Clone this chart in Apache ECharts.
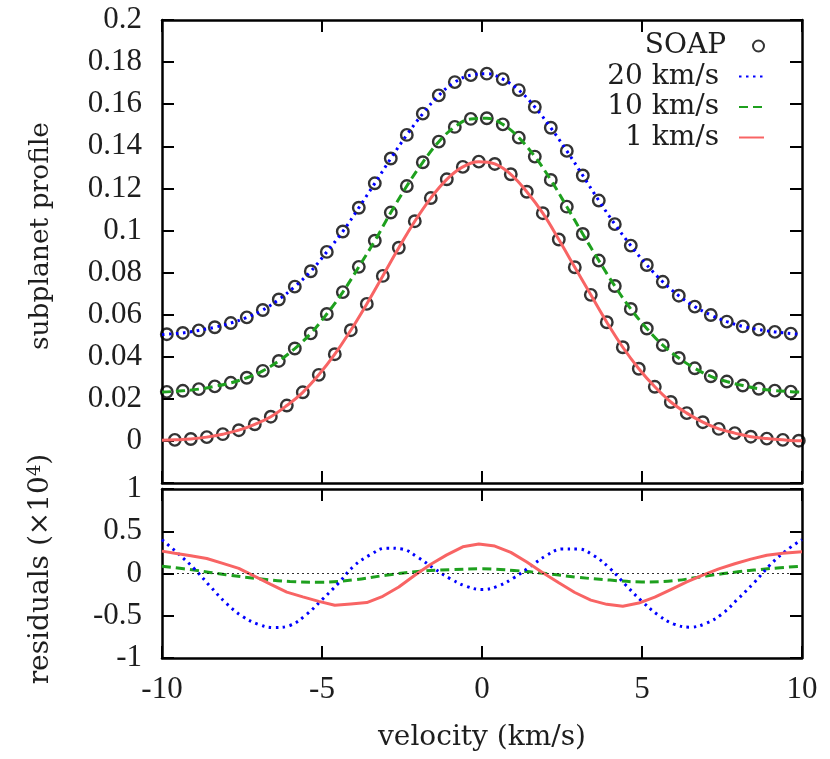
<!DOCTYPE html>
<html>
<head>
<meta charset="utf-8">
<script src="https://cdn.jsdelivr.net/npm/echarts@6/dist/echarts.min.js"></script>
<style>
html, body { margin: 0; padding: 0; background: #fff; }
#main { width: 830px; height: 759px; }
</style>
</head>
<body>
<div id="main"></div>
<script>
// SOAP sampling grids (km/s)
const vBroad = [-9.85, -9.35, -8.85, -8.35, -7.85, -7.35, -6.85, -6.35, -5.85, -5.35,
  -4.85, -4.35, -3.85, -3.35, -2.85, -2.35, -1.85, -1.35, -0.85, -0.35,
  0.15, 0.65, 1.15, 1.65, 2.15, 2.65, 3.15, 3.65, 4.15, 4.65,
  5.15, 5.65, 6.15, 6.65, 7.15, 7.65, 8.15, 8.65, 9.15, 9.65];
const vNarrow = [-9.6, -9.1, -8.6, -8.1, -7.6, -7.1, -6.6, -6.1, -5.6, -5.1,
  -4.6, -4.1, -3.6, -3.1, -2.6, -2.1, -1.6, -1.1, -0.6, -0.1,
  0.4, 0.9, 1.4, 1.9, 2.4, 2.9, 3.4, 3.9, 4.4, 4.9,
  5.4, 5.9, 6.4, 6.9, 7.4, 7.9, 8.4, 8.9, 9.4, 9.9];

// subplanet profiles
const soap20 = [0.0507, 0.0513, 0.0525, 0.0540, 0.0560, 0.0587, 0.0622, 0.0672, 0.0733, 0.0806,
  0.0898, 0.0995, 0.1108, 0.1224, 0.1342, 0.1454, 0.1555, 0.1642, 0.1705, 0.1738,
  0.1745, 0.1719, 0.1667, 0.1587, 0.1488, 0.1378, 0.1261, 0.1142, 0.1030, 0.0928,
  0.0836, 0.0756, 0.0690, 0.0638, 0.0598, 0.0567, 0.0544, 0.0529, 0.0518, 0.0510];
const soap10 = [0.0233, 0.0238, 0.0246, 0.0259, 0.0276, 0.0300, 0.0333, 0.0380, 0.0439, 0.0511,
  0.0603, 0.0707, 0.0827, 0.0951, 0.1085, 0.1211, 0.1324, 0.1422, 0.1492, 0.1530,
  0.1533, 0.1504, 0.1441, 0.1351, 0.1240, 0.1113, 0.0983, 0.0857, 0.0736, 0.0627,
  0.0534, 0.0455, 0.0394, 0.0345, 0.0307, 0.0282, 0.0263, 0.0248, 0.0239, 0.0234];
const soap1 = [0.0005, 0.0009, 0.0018, 0.0032, 0.0051, 0.0079, 0.0115, 0.0168, 0.0231, 0.0314,
  0.0412, 0.0526, 0.0651, 0.0784, 0.0918, 0.1044, 0.1154, 0.1243, 0.1302, 0.1327,
  0.1316, 0.1267, 0.1184, 0.1082, 0.0957, 0.0825, 0.0694, 0.0564, 0.0445, 0.0343,
  0.0257, 0.0185, 0.0132, 0.0089, 0.0057, 0.0037, 0.0020, 0.0011, 0.0005, 0.0001];
// model values at the plot edges (-10, +10)
const edge20 = [0.0505, 0.0506];
const edge10 = [0.0232, 0.0232];
const edge1 = [0.0003, 0.0001];

// residuals (x1e4)
const vRes20 = [-10, -9.5, -9, -8.5, -8, -7.5, -7, -6.5, -6, -5.5, -5, -4.5, -4, -3.5, -3, -2.5, -2, -1.5, -1, -0.5,
  0, 0.5, 1, 1.5, 2, 2.5, 3, 3.5, 4, 4.5, 5, 5.5, 6, 6.5, 7, 7.5, 8, 8.5, 9, 9.5, 10];
const res20 = [0.40, 0.237, 0.06, -0.15, -0.35, -0.505, -0.60, -0.64, -0.615, -0.49, -0.31, -0.12, 0.09, 0.22, 0.30, 0.29, 0.19, 0.06, -0.06, -0.15,
  -0.19, -0.15, -0.05, 0.08, 0.21, 0.29, 0.29, 0.21, 0.06, -0.14, -0.33, -0.49, -0.60, -0.635, -0.59, -0.48, -0.30, -0.11, 0.10, 0.27, 0.40];
const vRes10 = [-10, -9, -8, -7, -6, -5, -4, -3, -2, -1, 0, 1, 2, 3, 4, 5, 6, 7, 8, 9, 10];
const res10 = [0.087, 0.04, -0.015, -0.06, -0.095, -0.103, -0.075, -0.02, 0.025, 0.045, 0.055,
  0.036, 0.0, -0.045, -0.078, -0.10, -0.085, -0.03, 0.02, 0.058, 0.087];
const vRes1 = [-10, -9.6, -9.1, -8.6, -8.1, -7.6, -7.1, -6.6, -6.1, -5.6, -5.1,
  -4.6, -4.1, -3.6, -3.1, -2.6, -2.1, -1.6, -1.1, -0.6, -0.1,
  0.4, 0.9, 1.4, 1.9, 2.4, 2.9, 3.4, 3.9, 4.4, 4.9,
  5.4, 5.9, 6.4, 6.9, 7.4, 7.9, 8.4, 8.9, 9.4, 9.9, 10];
const res1 = [0.265, 0.24, 0.21, 0.178, 0.12, 0.06, -0.035, -0.128, -0.22, -0.277, -0.33,
  -0.376, -0.36, -0.344, -0.27, -0.16, -0.02, 0.11, 0.22, 0.316, 0.348,
  0.325, 0.25, 0.135, 0.01, -0.11, -0.225, -0.315, -0.365, -0.388, -0.35,
  -0.28, -0.19, -0.10, -0.02, 0.055, 0.115, 0.17, 0.215, 0.24, 0.255, 0.256];

const NUMFONT = "'Liberation Serif'";
const TXTFONT = "'DejaVu Serif'";
const TXT = '#1e1e1e';
const BLUE = '#0000ff', GREEN = '#1ea01e', RED = '#f86464';

function zip(xs, ys) { return xs.map((x, i) => [x, ys[i]]); }
function withEdges(xs, ys, e) { return [[-10, e[0]]].concat(zip(xs, ys), [[10, e[1]]]); }

var chartDom = document.getElementById('main');
var myChart = echarts.init(chartDom);

const frameLine = { show: true, onZero: false, lineStyle: { color: '#000', width: 2.5 } };
const tick = { show: true, inside: true, length: 12, lineStyle: { color: '#000', width: 2 } };
const lab = { color: TXT, fontFamily: NUMFONT, fontSize: 31 };

function xAx(grid, pos, showLabel) {
  return {
    type: 'value', gridIndex: grid, position: pos, min: -10, max: 10, interval: 5,
    axisLine: frameLine, axisTick: tick, splitLine: { show: false },
    axisLabel: showLabel ? Object.assign({ margin: 16 }, lab) : { show: false }
  };
}
function yAx(grid, pos, min, max, step, showLabel, hideNeg) {
  return {
    type: 'value', gridIndex: grid, position: pos, min: min, max: max, interval: step,
    axisLine: frameLine, axisTick: tick, splitLine: { show: false },
    axisLabel: showLabel ? Object.assign({
      margin: 20,
      formatter: function (v) { return hideNeg && v < 0 ? '' : String(+v.toFixed(3)); }
    }, lab) : { show: false }
  };
}

const xAxes = [xAx(0, 'bottom', false), xAx(0, 'top', false), xAx(1, 'bottom', true), xAx(1, 'top', false)];
xAxes[2].name = 'velocity (km/s)';
xAxes[2].nameLocation = 'middle';
xAxes[2].nameGap = 66;
xAxes[2].nameTextStyle = { color: TXT, fontFamily: TXTFONT, fontSize: 28, lineHeight: 28 };

const legendBase = {
  orient: 'vertical', align: 'right', right: 65, padding: 0,
  itemWidth: 25, itemHeight: 11, selectedMode: false,
  textStyle: { color: TXT, fontFamily: TXTFONT, fontSize: 28, lineHeight: 30, padding: [0, 15, 0, 0] }
};
const lineLegend = Object.assign({}, legendBase, { itemStyle: { opacity: 0 } });

var option = {
  animation: false,
  backgroundColor: '#fff',
  grid: [
    { left: 162, right: 28, top: 20, height: 463 },
    { left: 162, right: 28, top: 489, height: 169 }
  ],
  xAxis: xAxes,
  yAxis: [
    yAx(0, 'left', -0.02, 0.2, 0.02, true, true),
    yAx(0, 'right', -0.02, 0.2, 0.02, false),
    yAx(1, 'left', -1, 1, 0.5, true, false),
    yAx(1, 'right', -1, 1, 0.5, false)
  ],
  legend: [
    Object.assign({}, legendBase, { data: ['SOAP'], top: 31 }),
    Object.assign({}, lineLegend, { data: ['20 km/s'], top: 61.5 }),
    Object.assign({}, lineLegend, { data: ['10 km/s'], top: 92 }),
    Object.assign({}, lineLegend, { data: ['1 km/s'], top: 122.5 })
  ],
  graphic: [
    {
      type: 'text', x: 41, y: 236, rotation: Math.PI / 2,
      style: { text: 'subplanet profile', font: "26.5px 'DejaVu Serif'", fill: TXT, align: 'center', verticalAlign: 'middle' }
    },
    {
      type: 'text', x: 41, y: 569, rotation: Math.PI / 2,
      style: {
        text: 'residuals (×10{sup|4})', font: "28px 'DejaVu Serif'", fill: TXT, align: 'center', verticalAlign: 'middle',
        rich: { sup: { font: "18px 'DejaVu Serif'", fill: TXT, verticalAlign: 'top', lineHeight: 30 } }
      }
    }
  ],
  series: [
    { name: 'SOAP', type: 'scatter', xAxisIndex: 0, yAxisIndex: 0, symbol: 'circle', symbolSize: 11.5,
      itemStyle: { color: 'rgba(255,255,255,0)', borderColor: '#000', borderWidth: 2.4 }, data: zip(vBroad, soap20) },
    { name: 'SOAP', type: 'scatter', xAxisIndex: 0, yAxisIndex: 0, symbol: 'circle', symbolSize: 11.5,
      itemStyle: { color: 'rgba(255,255,255,0)', borderColor: '#000', borderWidth: 2.4 }, data: zip(vBroad, soap10) },
    { name: 'SOAP', type: 'scatter', xAxisIndex: 0, yAxisIndex: 0, symbol: 'circle', symbolSize: 11.5,
      itemStyle: { color: 'rgba(255,255,255,0)', borderColor: '#000', borderWidth: 2.4 }, data: zip(vNarrow, soap1) },
    { name: '20 km/s', type: 'line', xAxisIndex: 0, yAxisIndex: 0, symbol: 'none', smooth: 0.4,
      itemStyle: { color: BLUE }, lineStyle: { color: BLUE, width: 3, type: [2.5, 4.5] },
      data: withEdges(vBroad, soap20, edge20) },
    { name: '10 km/s', type: 'line', xAxisIndex: 0, yAxisIndex: 0, symbol: 'none', smooth: 0.4,
      itemStyle: { color: GREEN }, lineStyle: { color: GREEN, width: 3, type: [9, 5] },
      data: withEdges(vBroad, soap10, edge10) },
    { name: '1 km/s', type: 'line', xAxisIndex: 0, yAxisIndex: 0, symbol: 'none', smooth: 0.4,
      itemStyle: { color: RED }, lineStyle: { color: RED, width: 3 },
      data: withEdges(vNarrow, soap1, edge1) },
    // residuals
    { name: '10 km/s', type: 'line', xAxisIndex: 2, yAxisIndex: 2, symbol: 'none', smooth: 0.4,
      itemStyle: { color: GREEN }, lineStyle: { color: GREEN, width: 3, type: [9, 5] },
      data: zip(vRes10, res10),
      markLine: {
        silent: true, symbol: 'none', label: { show: false },
        lineStyle: { color: '#000', width: 0.8, type: [2, 3] },
        data: [{ yAxis: 0 }]
      } },
    { name: '20 km/s', type: 'line', xAxisIndex: 2, yAxisIndex: 2, symbol: 'none', smooth: 0.4,
      itemStyle: { color: BLUE }, lineStyle: { color: BLUE, width: 3, type: [2.5, 4.5] },
      data: zip(vRes20, res20) },
    { name: '1 km/s', type: 'line', xAxisIndex: 2, yAxisIndex: 2, symbol: 'none',
      itemStyle: { color: RED }, lineStyle: { color: RED, width: 3 },
      data: zip(vRes1, res1) }
  ]
};

myChart.setOption(option);
</script>
</body>
</html>
